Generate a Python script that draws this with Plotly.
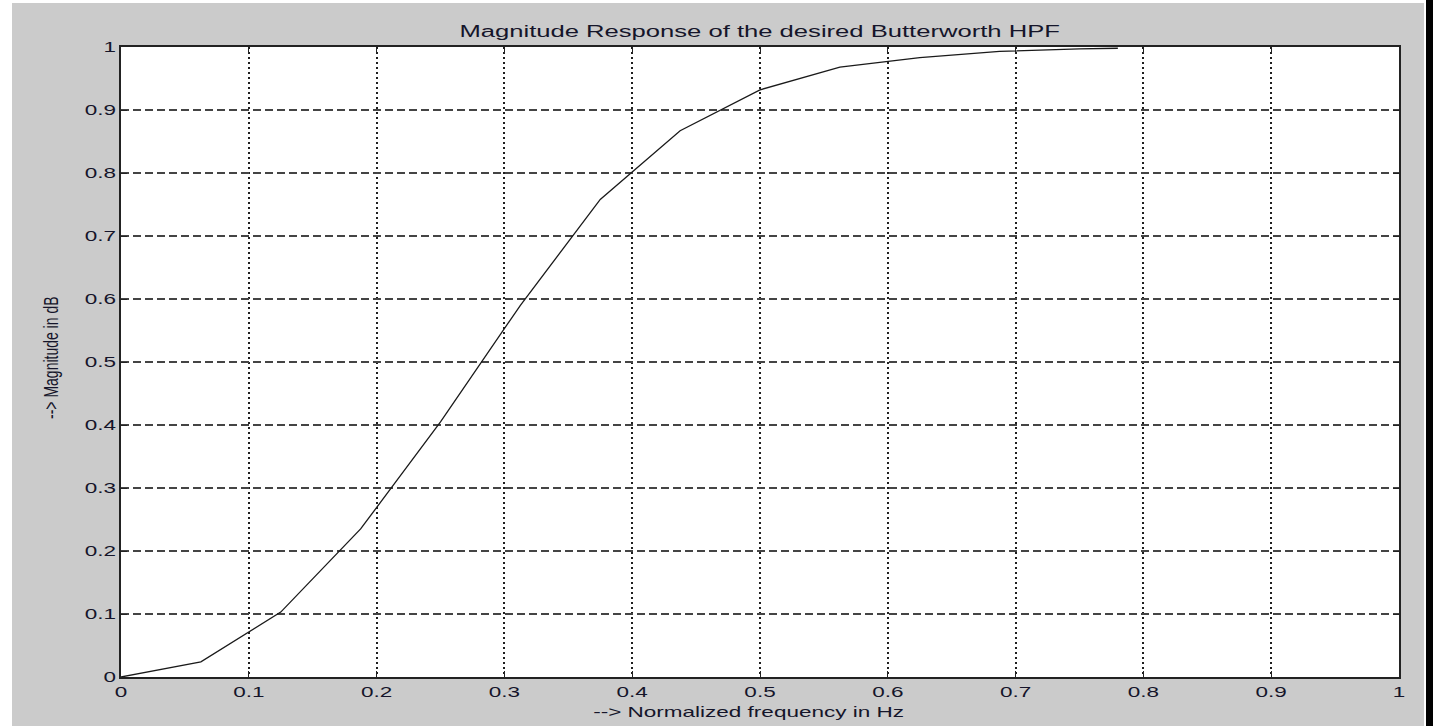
import plotly.graph_objects as go

# Butterworth high-pass magnitude response samples
freq = [0, 0.0625, 0.125, 0.1875, 0.25, 0.3125, 0.375, 0.4375, 0.5,
        0.5625, 0.625, 0.6875, 0.75, 0.78]
mag = [0, 0.024, 0.103, 0.235, 0.405, 0.59, 0.758, 0.867, 0.932,
       0.968, 0.983, 0.993, 0.997, 0.998]

tick_vals = [0, 0.1, 0.2, 0.3, 0.4, 0.5, 0.6, 0.7, 0.8, 0.9, 1]
tick_text = ["0", "0.1", "0.2", "0.3", "0.4", "0.5", "0.6", "0.7", "0.8", "0.9", "1"]

title_text = "Magnitude Response of the desired Butterworth HPF"
xlabel = "--> Normalized frequency in Hz"
ylabel = "--> Magnitude in dB"

W, H = 1435, 726
L, R, T, B = 121, 36, 47, 49
pw, ph = W - L - R, H - T - B


def px(x):
    return (x - L) / pw


def py(y):
    return (H - B - y) / ph


TXT = "#15152a"
FONT = "Liberation Sans"

fig = go.Figure()
fig.add_trace(go.Scatter(x=freq, y=mag, mode="lines",
                         line=dict(color="#1a1a1a", width=1.3),
                         showlegend=False, hoverinfo="skip"))

axis_common = dict(
    range=[0, 1], tickvals=tick_vals, ticktext=tick_text,
    showline=True, linecolor="#222", linewidth=2, mirror="ticks",
    ticks="inside", ticklen=6, tickcolor="#222", tickwidth=1,
    showgrid=True, zeroline=False,
    tickfont=dict(family=FONT, size=15, color=TXT),
)

fig.update_xaxes(**axis_common, griddash="2px,3px", gridcolor="#1e1e1e", gridwidth=2)
fig.update_yaxes(**axis_common, griddash="8px,4px", gridcolor="#444", gridwidth=1.5)

# figure window background, white axes area and right border
shapes = [
    dict(type="rect", xref="paper", yref="paper", layer="below",
         x0=px(12), x1=px(1424), y0=py(H + 5), y1=py(3),
         fillcolor="#cbcbcb", line=dict(width=0)),
    dict(type="rect", xref="x", yref="y", layer="below",
         x0=0, x1=1, y0=0, y1=1,
         fillcolor="#ffffff", line=dict(width=0)),
    dict(type="rect", xref="paper", yref="paper", layer="above",
         x0=px(1426), x1=px(1433), y0=py(H + 5), y1=py(-5),
         fillcolor="#000000", line=dict(width=0)),
]

annotations = [
    dict(text=title_text, xref="paper", yref="paper", x=0.5, y=py(31),
         xanchor="center", yanchor="middle", showarrow=False,
         font=dict(family=FONT, size=16, color=TXT)),
    dict(text=xlabel, xref="paper", yref="paper", x=px(748), y=py(711),
         xanchor="center", yanchor="middle", showarrow=False,
         font=dict(family=FONT, size=15, color=TXT)),
    dict(text=ylabel, xref="paper", yref="paper", x=px(51), y=py(358),
         xanchor="center", yanchor="middle", showarrow=False, textangle=-90,
         font=dict(family=FONT, size=14, color=TXT)),
]

fig.update_layout(
    width=W, height=H,
    margin=dict(l=L, r=R, t=T, b=B, pad=0),
    paper_bgcolor="white", plot_bgcolor="white",
    shapes=shapes, annotations=annotations,
)

# widen text glyphs horizontally (wide screen aspect of the figure window)
stretch_js = """
var gd = document.getElementById('{plot_id}');
function widen(sel, k) {
    gd.querySelectorAll(sel).forEach(function (t) {
        var w = t.getComputedTextLength();
        t.setAttribute('textLength', (w * k).toFixed(1));
        t.setAttribute('lengthAdjust', 'spacingAndGlyphs');
    });
}
widen('.xtick text, .ytick text', 1.5);
widen('.annotation[data-index="0"] text', 1.6);
widen('.annotation[data-index="1"] text', 1.5);
gd.querySelectorAll('.annotation[data-index="2"] text').forEach(function (t) {
    var b = t.getBBox();
    var cx = b.x + b.width / 2, cy = b.y + b.height / 2;
    t.setAttribute('transform', 'translate(' + cx + ',' + cy + ') scale(1,1.5) translate(' + (-cx) + ',' + (-cy) + ')');
});
"""

fig.write_html("out.html", post_script=stretch_js)
